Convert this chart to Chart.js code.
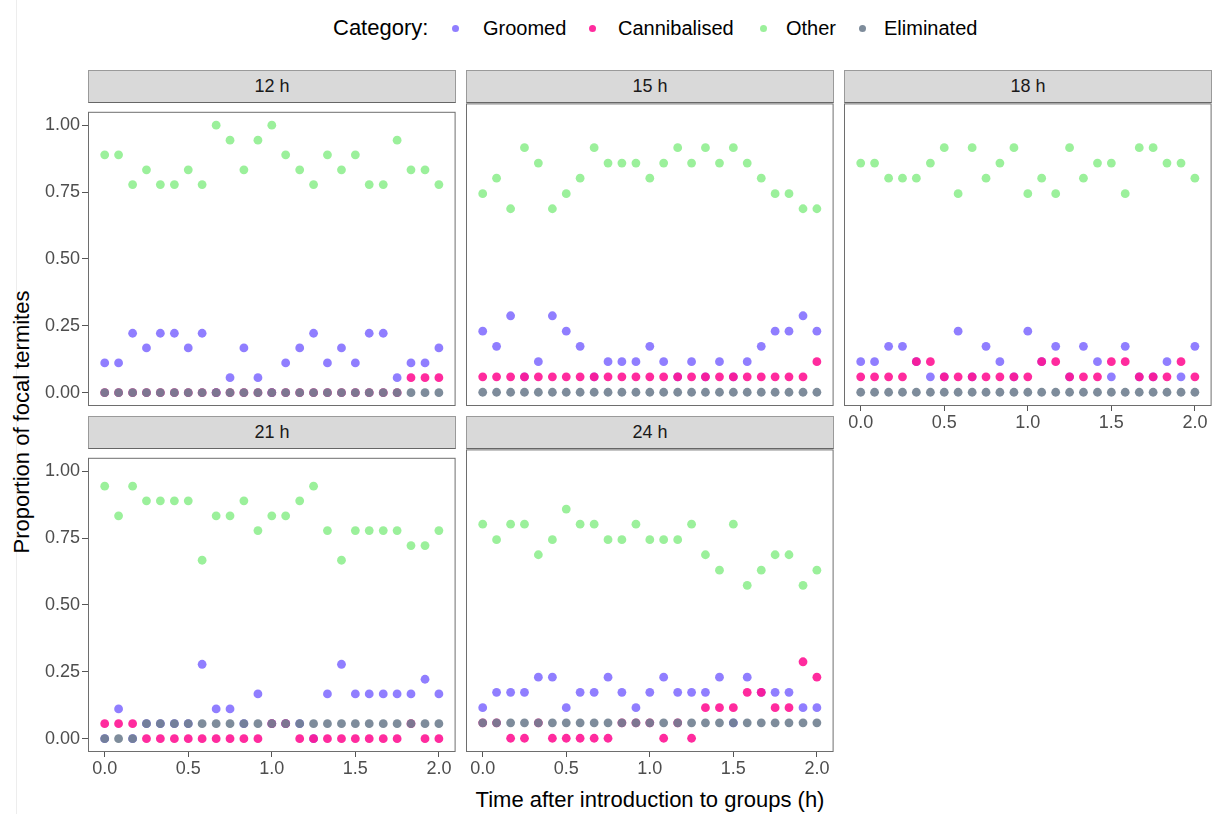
<!DOCTYPE html>
<html>
<head>
<meta charset="utf-8">
<script src="https://cdn.jsdelivr.net/npm/chart.js@4.4.1/dist/chart.umd.min.js"></script>
<style>
  body { margin: 0; background: #fff; }
  #page { position: relative; width: 1219px; height: 814px; overflow: hidden; background: #fff;
          font-family: 'Liberation Sans', Arial, sans-serif; }
  .edge { position: absolute; left: 16px; top: 0; width: 1px; height: 814px; background: #ededed; }
  .strip { position: absolute; box-sizing: border-box; height: 33px; background: #d9d9d9;
           border: 1px solid #9a9a9a; border-bottom-color: #666; color: #1a1a1a; font-size: 18px;
           display: flex; align-items: center; justify-content: center; }
  canvas { position: absolute; }
  .legend { position: absolute; top: 14px; height: 28px; line-height: 28px; white-space: nowrap; color: #000; }
  .legend .title { position: absolute; left: 333px; font-size: 22px; }
  .legend .item { position: absolute; font-size: 20px; }
  .legend .dot { position: absolute; width: 7px; height: 7px; border-radius: 50%; top: 11px; }
  .ytitle { position: absolute; left: 22px; top: 422px; font-size: 22px; color: #000; white-space: nowrap;
            transform: translate(-50%, -50%) rotate(-90deg); }
  .xtitle { position: absolute; left: 650px; top: 800px; font-size: 22px; color: #000; white-space: nowrap;
            transform: translate(-50%, -50%); }
</style>
</head>
<body>
<div id="page">
  <div class="edge"></div>
  <div class="legend" id="legend"><span class="title">Category:</span></div>
  <div class="ytitle">Proportion of focal termites</div>
  <div class="xtitle">Time after introduction to groups (h)</div>
</div>
<script>
// Time after introduction (h), one reading every 5 minutes
const times = [0, 0.083, 0.167, 0.25, 0.333, 0.417, 0.5, 0.583, 0.667, 0.75, 0.833, 0.917, 1,
               1.083, 1.167, 1.25, 1.333, 1.417, 1.5, 1.583, 1.667, 1.75, 1.833, 1.917, 2];

const categories = ['Groomed', 'Cannibalised', 'Other', 'Eliminated'];
const panelLabels = ['12 h', '15 h', '18 h', '21 h', '24 h'];

const xTicks = [0, 0.5, 1, 1.5, 2];
const xTickLabels = ['0.0', '0.5', '1.0', '1.5', '2.0'];
const yTicks = [0, 0.25, 0.5, 0.75, 1];
const yTickLabels = ['0.00', '0.25', '0.50', '0.75', '1.00'];

// 12 h
const groomed12 = [0.111, 0.111, 0.222, 0.167, 0.222, 0.222, 0.167, 0.222, 0, 0.056, 0.167, 0.056, 0,
                   0.111, 0.167, 0.222, 0.111, 0.167, 0.111, 0.222, 0.222, 0.056, 0.111, 0.111, 0.167];
const cannibalised12 = [0, 0, 0, 0, 0, 0, 0, 0, 0, 0, 0, 0, 0,
                        0, 0, 0, 0, 0, 0, 0, 0, 0, 0.056, 0.056, 0.056];
const other12 = [0.889, 0.889, 0.778, 0.833, 0.778, 0.778, 0.833, 0.778, 1, 0.944, 0.833, 0.944, 1,
                 0.889, 0.833, 0.778, 0.889, 0.833, 0.889, 0.778, 0.778, 0.944, 0.833, 0.833, 0.778];
const eliminated12 = [0, 0, 0, 0, 0, 0, 0, 0, 0, 0, 0, 0, 0,
                      0, 0, 0, 0, 0, 0, 0, 0, 0, 0, 0, 0];

// 15 h
const groomed15 = [0.222, 0.167, 0.278, 0.056, 0.111, 0.278, 0.222, 0.167, 0.056, 0.111, 0.111, 0.111, 0.167,
                   0.111, 0.056, 0.111, 0.056, 0.111, 0.056, 0.111, 0.167, 0.222, 0.222, 0.278, 0.222];
const cannibalised15 = [0.056, 0.056, 0.056, 0.056, 0.056, 0.056, 0.056, 0.056, 0.056, 0.056, 0.056, 0.056, 0.056,
                        0.056, 0.056, 0.056, 0.056, 0.056, 0.056, 0.056, 0.056, 0.056, 0.056, 0.056, 0.111];
const other15 = [0.722, 0.778, 0.667, 0.889, 0.833, 0.667, 0.722, 0.778, 0.889, 0.833, 0.833, 0.833, 0.778,
                 0.833, 0.889, 0.833, 0.889, 0.833, 0.889, 0.833, 0.778, 0.722, 0.722, 0.667, 0.667];
const eliminated15 = [0, 0, 0, 0, 0, 0, 0, 0, 0, 0, 0, 0, 0,
                      0, 0, 0, 0, 0, 0, 0, 0, 0, 0, 0, 0];

// 18 h
const groomed18 = [0.111, 0.111, 0.167, 0.167, 0.111, 0.056, 0.056, 0.222, 0.056, 0.167, 0.111, 0.056, 0.222,
                   0.111, 0.167, 0.056, 0.167, 0.111, 0.056, 0.167, 0.056, 0.056, 0.111, 0.056, 0.167];
const cannibalised18 = [0.056, 0.056, 0.056, 0.056, 0.111, 0.111, 0.056, 0.056, 0.056, 0.056, 0.056, 0.056, 0.056,
                        0.111, 0.111, 0.056, 0.056, 0.056, 0.111, 0.111, 0.056, 0.056, 0.056, 0.111, 0.056];
const other18 = [0.833, 0.833, 0.778, 0.778, 0.778, 0.833, 0.889, 0.722, 0.889, 0.778, 0.833, 0.889, 0.722,
                 0.778, 0.722, 0.889, 0.778, 0.833, 0.833, 0.722, 0.889, 0.889, 0.833, 0.833, 0.778];
const eliminated18 = [0, 0, 0, 0, 0, 0, 0, 0, 0, 0, 0, 0, 0,
                      0, 0, 0, 0, 0, 0, 0, 0, 0, 0, 0, 0];

// 21 h
const groomed21 = [0, 0.111, 0, 0.056, 0.056, 0.056, 0.056, 0.278, 0.111, 0.111, 0.056, 0.167, 0.056,
                   0.056, 0.056, 0, 0.167, 0.278, 0.167, 0.167, 0.167, 0.167, 0.167, 0.222, 0.167];
const cannibalised21 = [0.056, 0.056, 0.056, 0, 0, 0, 0, 0, 0, 0, 0, 0, 0.056,
                        0.056, 0, 0, 0, 0, 0, 0, 0, 0, 0.056, 0, 0];
const other21 = [0.944, 0.833, 0.944, 0.889, 0.889, 0.889, 0.889, 0.667, 0.833, 0.833, 0.889, 0.778, 0.833,
                 0.833, 0.889, 0.944, 0.778, 0.667, 0.778, 0.778, 0.778, 0.778, 0.722, 0.722, 0.778];
const eliminated21 = [0, 0, 0, 0.056, 0.056, 0.056, 0.056, 0.056, 0.056, 0.056, 0.056, 0.056, 0.056,
                      0.056, 0.056, 0.056, 0.056, 0.056, 0.056, 0.056, 0.056, 0.056, 0.056, 0.056, 0.056];

// 24 h
const groomed24 = [0.111, 0.167, 0.167, 0.167, 0.222, 0.222, 0.111, 0.167, 0.167, 0.222, 0.167, 0.111, 0.167,
                   0.222, 0.167, 0.167, 0.167, 0.222, 0.056, 0.222, 0.167, 0.167, 0.167, 0.111, 0.111];
const cannibalised24 = [0.056, 0.056, 0, 0, 0.056, 0, 0, 0, 0, 0, 0.056, 0.056, 0.056,
                        0, 0.056, 0, 0.111, 0.111, 0.111, 0.167, 0.167, 0.111, 0.111, 0.278, 0.222];
const other24 = [0.778, 0.722, 0.778, 0.778, 0.667, 0.722, 0.833, 0.778, 0.778, 0.722, 0.722, 0.778, 0.722,
                 0.722, 0.722, 0.778, 0.667, 0.611, 0.778, 0.556, 0.611, 0.667, 0.667, 0.556, 0.611];
const eliminated24 = [0.056, 0.056, 0.056, 0.056, 0.056, 0.056, 0.056, 0.056, 0.056, 0.056, 0.056, 0.056, 0.056,
                      0.056, 0.056, 0.056, 0.056, 0.056, 0.056, 0.056, 0.056, 0.056, 0.056, 0.056, 0.056];

const panelSeries = [
  [groomed12, cannibalised12, other12, eliminated12],
  [groomed15, cannibalised15, other15, eliminated15],
  [groomed18, cannibalised18, other18, eliminated18],
  [groomed21, cannibalised21, other21, eliminated21],
  [groomed24, cannibalised24, other24, eliminated24]
];

// styling
const colours = ['rgba(132,112,255,0.9)', 'rgba(255,20,147,0.9)', 'rgba(144,238,144,0.9)', 'rgba(112,128,144,0.9)'];
const drawOrder = [2, 1, 3, 0];   // Eliminated drawn last (on top)
const fontFamily = "'Liberation Sans', Arial, sans-serif";

const panelW = 368, panelH = 303;
const colLeft = [88, 466, 844];
const rowTop = [103, 449];
const stripH = 33;
const marginL = 60, marginT = 4, marginR = 4, marginB = 40;

const page = document.getElementById('page');

// legend
const legend = document.getElementById('legend');
const legendDotX = [452, 589, 760, 859];
const legendTextX = [483, 618, 786, 884];
categories.forEach((name, k) => {
  const dot = document.createElement('span');
  dot.className = 'dot';
  dot.style.left = legendDotX[k] + 'px';
  dot.style.background = colours[k];
  legend.appendChild(dot);
  const txt = document.createElement('span');
  txt.className = 'item';
  txt.style.left = legendTextX[k] + 'px';
  txt.textContent = name;
  legend.appendChild(txt);
});

const panelBox = {
  id: 'panelBox',
  afterDatasetsDraw(chart) {
    const a = chart.chartArea;
    const ctx = chart.ctx;
    ctx.save();
    ctx.strokeStyle = '#6e6e6e';
    ctx.lineWidth = 1;
    ctx.strokeRect(a.left + 0.5, a.top + 0.5, a.right - a.left - 1, a.bottom - a.top - 1);
    ctx.restore();
  }
};

function makePanel(p) {
  const col = p % 3, row = Math.floor(p / 3);
  const showY = col === 0;
  const showX = row === 1 || p === 2;
  const left = colLeft[col], top = rowTop[row];

  const strip = document.createElement('div');
  strip.className = 'strip';
  strip.style.left = left + 'px';
  strip.style.top = (top - stripH) + 'px';
  strip.style.width = panelW + 'px';
  strip.textContent = panelLabels[p];
  page.appendChild(strip);

  const canvas = document.createElement('canvas');
  canvas.width = panelW + marginL + marginR;
  canvas.height = panelH + marginT + marginB;
  canvas.style.left = (left - marginL) + 'px';
  canvas.style.top = (top - marginT) + 'px';
  page.appendChild(canvas);

  const tickFont = { family: fontFamily, size: 18 };

  new Chart(canvas, {
    type: 'scatter',
    data: {
      datasets: categories.map((name, k) => ({
        label: name,
        data: times.map((t, i) => ({ x: t, y: panelSeries[p][k][i] })),
        backgroundColor: colours[k],
        borderWidth: 0,
        pointRadius: 4.4,
        pointHoverRadius: 4.4,
        order: drawOrder[k]
      }))
    },
    options: {
      responsive: false,
      animation: false,
      events: [],
      layout: { padding: { left: 0, top: marginT, right: marginR, bottom: 0 } },
      plugins: { legend: { display: false }, tooltip: { enabled: false } },
      scales: {
        x: {
          type: 'linear',
          min: -0.1,
          max: 2.1,
          afterBuildTicks: s => { s.ticks = xTicks.map(v => ({ value: v })); },
          afterFit: s => { s.height = marginB; },
          border: { display: false },
          grid: { display: showX, drawOnChartArea: false, drawTicks: true, tickLength: 5, color: '#555' },
          ticks: {
            display: showX,
            padding: 1,
            maxRotation: 0,
            autoSkip: false,
            color: '#4d4d4d',
            font: tickFont,
            callback: (v, i) => xTickLabels[i]
          }
        },
        y: {
          type: 'linear',
          min: -0.05,
          max: 1.05,
          afterBuildTicks: s => { s.ticks = yTicks.map(v => ({ value: v })); },
          afterFit: s => { s.width = marginL; },
          border: { display: false },
          grid: { display: showY, drawOnChartArea: false, drawTicks: true, tickLength: 6, color: '#555' },
          ticks: {
            display: showY,
            padding: 2,
            autoSkip: false,
            color: '#4d4d4d',
            font: tickFont,
            callback: (v, i) => yTickLabels[i]
          }
        }
      }
    },
    plugins: [panelBox]
  });
}

panelLabels.forEach((label, p) => makePanel(p));
</script>
</body>
</html>
